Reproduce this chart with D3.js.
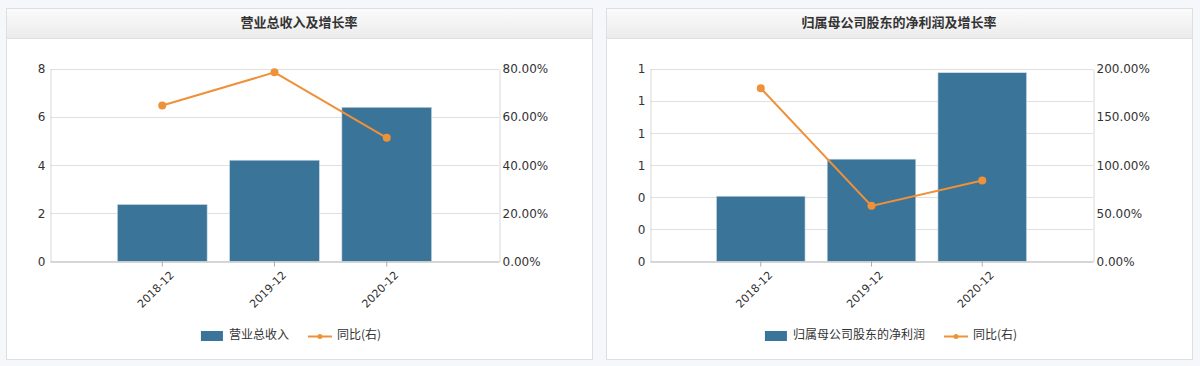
<!DOCTYPE html>
<html>
<head>
<meta charset="utf-8">
<script src="https://cdn.jsdelivr.net/npm/d3@7"></script>
<style>
  body { margin:0; background:#f5f7fa; font-family:"Noto Sans CJK SC", "DejaVu Sans", sans-serif; }
  svg { display:block; }
</style>
</head>
<body>
<svg id="chart" width="1200" height="366"></svg>
<script>
// data
var categories = ["2018-12", "2019-12", "2020-12"];
var revenue = [2.37, 4.21, 6.41];
var revenueGrowth = [64.8, 78.6, 51.4];
var netProfit = [0.407, 0.638, 1.177];
var profitGrowth = [180.0, 57.8, 84.1];
var revenueTicks = [0, 2, 4, 6, 8];
var revenueGrowthTicks = [0, 20, 40, 60, 80];
var profitTicks = [0, 0.2, 0.4, 0.6, 0.8, 1.0, 1.2];
var profitGrowthTicks = [0, 50, 100, 150, 200];

var barColor = "#3b7499";
var lineColor = "#ee9139";

var svg = d3.select("#chart");

var defs = svg.append("defs");
var grad = defs.append("linearGradient").attr("id", "hdr").attr("x1", 0).attr("y1", 0).attr("x2", 0).attr("y2", 1);
grad.append("stop").attr("offset", "0%").attr("stop-color", "#fbfbfb");
grad.append("stop").attr("offset", "100%").attr("stop-color", "#ebebeb");

var drawPanel = function(cfg) {
  var g = svg.append("g");

  // panel frame
  g.append("rect").attr("x", cfg.px + 0.5).attr("y", 8.5).attr("width", 586).attr("height", 351)
    .attr("fill", "#fff").attr("stroke", "#dcdfe3");
  g.append("rect").attr("x", cfg.px + 1).attr("y", 9).attr("width", 585).attr("height", 29)
    .attr("fill", "url(#hdr)");
  g.append("line").attr("x1", cfg.px + 1).attr("x2", cfg.px + 586).attr("y1", 38.5).attr("y2", 38.5)
    .attr("stroke", "#dcdfe3");
  g.append("text").attr("x", cfg.px + 293).attr("y", 23.5)
    .attr("text-anchor", "middle").attr("dominant-baseline", "middle")
    .attr("font-size", 13).attr("font-weight", "bold").attr("fill", "#333")
    .text(cfg.title);

  var x = d3.scaleBand().domain(categories).range([cfg.x0, cfg.x1])
    .paddingInner(0.2).paddingOuter(0.6);
  var yL = d3.scaleLinear().domain(cfg.leftDomain).range([261.5, 69]);
  var yR = d3.scaleLinear().domain(cfg.rightDomain).range([261.5, 69]);

  // grid
  g.selectAll(".grid").data(cfg.leftTicks.slice(1)).enter().append("line")
    .attr("x1", cfg.x0).attr("x2", cfg.x1)
    .attr("y1", function(d) { return Math.round(yL(d)) + 0.5; })
    .attr("y2", function(d) { return Math.round(yL(d)) + 0.5; })
    .attr("stroke", "#e0e0e0").attr("stroke-width", 1);

  // left axis
  var axL = g.append("g").attr("transform", "translate(" + (cfg.x0 + 0.5) + ",0)")
    .call(d3.axisLeft(yL).tickValues(cfg.leftTicks).tickFormat(cfg.leftFormat).tickSize(0).tickPadding(5));
  axL.select(".domain").attr("stroke", "#d8d8d8");
  axL.selectAll("text").attr("font-family", "DejaVu Sans").attr("font-size", 12).attr("fill", "#333");

  // right axis
  var axR = g.append("g").attr("transform", "translate(" + (cfg.x1 + 0.5) + ",0)")
    .call(d3.axisRight(yR).tickValues(cfg.rightTicks).tickFormat(cfg.rightFormat).tickSize(0).tickPadding(3));
  axR.select(".domain").attr("stroke", "#d8d8d8");
  axR.selectAll("text").attr("font-family", "DejaVu Sans").attr("font-size", 12).attr("fill", "#333");

  // bars
  g.selectAll(".bar").data(cfg.bars).enter().append("rect")
    .attr("x", function(d, i) { return x(categories[i]); })
    .attr("y", function(d) { return yL(d); })
    .attr("width", x.bandwidth())
    .attr("height", function(d) { return yL(0) - yL(d); })
    .attr("fill", barColor).attr("stroke", "#cfdde8").attr("stroke-width", 0.6);

  // bottom axis
  var axB = g.append("g").attr("transform", "translate(0,261.5)")
    .call(d3.axisBottom(x).tickSize(5).tickSizeOuter(0));
  axB.select(".domain").attr("stroke", "#c8c8c8").attr("stroke-width", 1.5);
  axB.selectAll(".tick line").attr("stroke", "#aaa");
  axB.selectAll("text")
    .attr("font-family", "DejaVu Sans").attr("font-size", 11).attr("fill", "#333")
    .attr("text-anchor", "end").attr("dy", "0.35em")
    .attr("transform", "translate(4,6) rotate(-45)");

  // growth line
  var line = d3.line()
    .x(function(d, i) { return x(categories[i]) + x.bandwidth() / 2; })
    .y(function(d) { return yR(d); });
  g.append("path").datum(cfg.growth).attr("d", line)
    .attr("fill", "none").attr("stroke", lineColor).attr("stroke-width", 2);
  g.selectAll(".dot").data(cfg.growth).enter().append("circle")
    .attr("cx", function(d, i) { return x(categories[i]) + x.bandwidth() / 2; })
    .attr("cy", function(d) { return yR(d); })
    .attr("r", 4).attr("fill", lineColor);

  // legend
  var lg = g.append("g").attr("font-size", 12).attr("fill", "#333");
  var t1 = lg.append("text").attr("y", 336).attr("dominant-baseline", "middle").text(cfg.barName);
  var t2 = lg.append("text").attr("y", 336).attr("dominant-baseline", "middle").text("同比(右)");
  var w1 = t1.node().getComputedTextLength();
  var w2 = t2.node().getComputedTextLength();
  var total = 22 + 6 + w1 + 19 + 24 + 5 + w2;
  var sx = cfg.px + 293 - 8 - total / 2;
  lg.append("rect").attr("x", sx).attr("y", 331).attr("width", 22).attr("height", 10).attr("fill", barColor);
  t1.attr("x", sx + 28);
  var lx = sx + 28 + w1 + 19;
  lg.append("line").attr("x1", lx).attr("x2", lx + 24).attr("y1", 336.5).attr("y2", 336.5)
    .attr("stroke", lineColor).attr("stroke-width", 2);
  lg.append("circle").attr("cx", lx + 12).attr("cy", 336.5).attr("r", 2.5).attr("fill", lineColor);
  t2.attr("x", lx + 29);
};

drawPanel({
  px: 6, x0: 50, x1: 499,
  title: "营业总收入及增长率",
  barName: "营业总收入",
  bars: revenue, growth: revenueGrowth,
  leftDomain: [0, 8], rightDomain: [0, 80],
  leftTicks: revenueTicks, rightTicks: revenueGrowthTicks,
  leftFormat: d3.format("d"),
  rightFormat: function(d) { return d.toFixed(2) + "%"; }
});

drawPanel({
  px: 606, x0: 650, x1: 1093,
  title: "归属母公司股东的净利润及增长率",
  barName: "归属母公司股东的净利润",
  bars: netProfit, growth: profitGrowth,
  leftDomain: [0, 1.2], rightDomain: [0, 200],
  leftTicks: profitTicks, rightTicks: profitGrowthTicks,
  leftFormat: d3.format(".0f"),
  rightFormat: function(d) { return d.toFixed(2) + "%"; }
});
</script>
</body>
</html>
